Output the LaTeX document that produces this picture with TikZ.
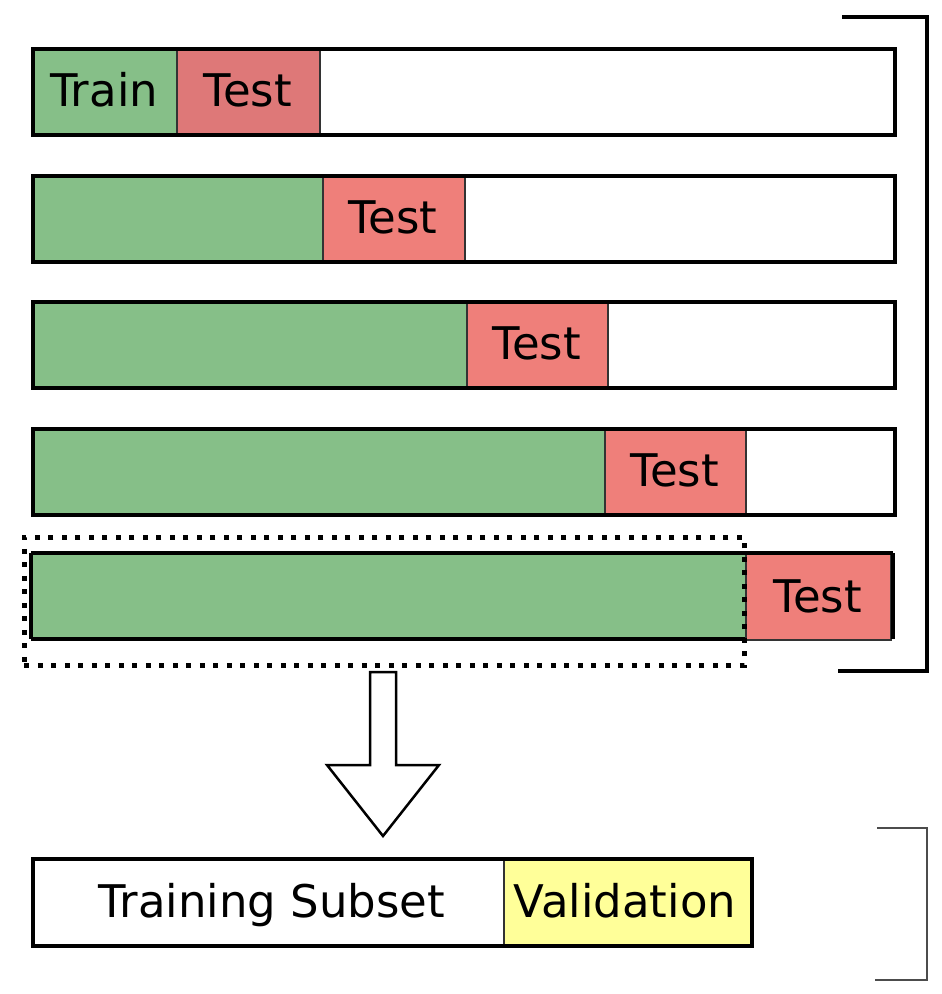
\documentclass[tikz,border=0pt]{standalone}
\usepackage{fontspec}
\setmainfont{DejaVu Sans}
\begin{document}
\begin{tikzpicture}[x=1pt,y=-1pt,
  cell/.style={draw=black!80,line width=1.5pt,inner sep=0pt,anchor=north west,minimum height=86pt},
  train/.style={cell,fill=trgreen},
  test/.style={cell,fill=tsred},
  barbox/.style={draw=black,line width=3.5pt,inner sep=0pt,anchor=north west,minimum height=86pt,minimum width=862pt},
  lbl/.style={font=\fontsize{45}{45}\selectfont,inner sep=0pt,anchor=base}]
\definecolor{trgreen}{HTML}{86BF88}
\definecolor{tsred}{HTML}{EF7F7A}
\definecolor{tsred1}{HTML}{DE7878}
\definecolor{valy}{HTML}{FFFF99}
\useasboundingbox (0,0) rectangle (942,994);
% row 1
\node[train,minimum width=145pt] (g1) at (31,47) {};
\node[test,fill=tsred1,minimum width=143pt] (r1) at (176,47) {};
\node[barbox] (b1) at (31,47) {};
\node[lbl] (t1a) at (104,106) {Train};
\node[lbl] (t1b) at (247.5,106) {Test};
% row 2
\node[train,minimum width=291pt] (g2) at (31,174) {};
\node[test,minimum width=142pt] (r2) at (322,174) {};
\node[barbox] (b2) at (31,174) {};
\node[lbl] (t2) at (393,233) {Test};
% row 3
\node[train,minimum width=435pt] (g3) at (31,300) {};
\node[test,minimum width=141pt] (r3) at (466,300) {};
\node[barbox] (b3) at (31,300) {};
\node[lbl] (t3) at (536.5,359) {Test};
% row 4
\node[train,minimum width=573pt] (g4) at (31,427) {};
\node[test,minimum width=141pt] (r4) at (604,427) {};
\node[barbox] (b4) at (31,427) {};
\node[lbl] (t4) at (674.5,486) {Test};
% row 5
\node[train,minimum width=714pt] (g5) at (31,553) {};
\node[test,minimum width=145pt] (r5) at (745,553) {};
\draw[line width=3.5pt] (31,553) -- (893,553) (31,639) -- (745,639) (31,553) -- (31,639) (893,553) -- (893,639);
\node[lbl] (t5) at (817.5,612) {Test};
% dotted selection
\node[draw=black,line width=4.5pt,dash pattern=on 5pt off 8.5pt,inner sep=0pt,anchor=north west,minimum width=720pt,minimum height=128pt] (sel) at (22,535) {};
% right bracket
\draw[line width=3.2pt] (842,17) -- (927,17) -- (927,671) -- (838,671);
% arrow
\coordinate (a0) at (383,672);
\draw[line width=2.5pt,fill=white,line join=miter] (370,672) -- (396,672) -- (396,765) -- (439,765) -- (383,836) -- (327,765) -- (370,765) -- cycle;
% bottom bar
\node[cell,fill=white,minimum width=472pt,minimum height=87pt] (ts) at (31,857) {};
\node[cell,fill=valy,minimum width=247pt,minimum height=87pt] (val) at (503,857) {};
\node[draw=black,line width=3.5pt,inner sep=0pt,anchor=north west,minimum width=719pt,minimum height=87pt] (bb) at (31,857) {};
\node[lbl] (tts) at (272,917) {Training Subset};
\node[lbl] (tval) at (625,917) {Validation};
% bottom bracket
\draw[line width=2pt,black!70] (877,828) -- (927,828) -- (927,980) -- (875,980);
\end{tikzpicture}
\end{document}
